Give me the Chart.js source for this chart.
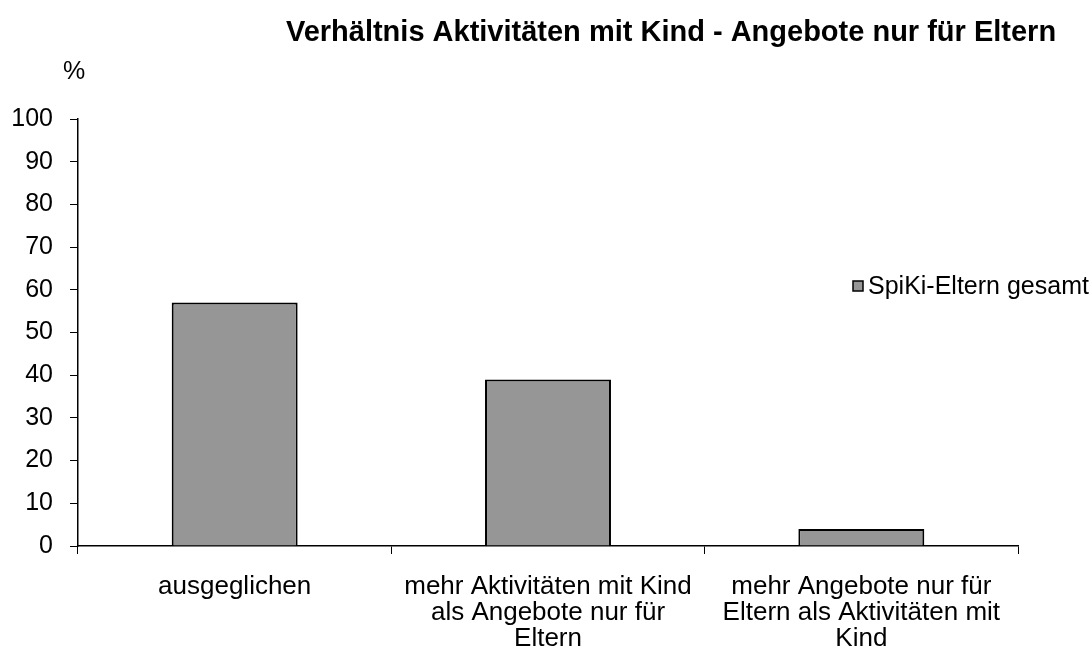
<!DOCTYPE html>
<html>
<head>
<meta charset="utf-8">
<script src="https://cdn.jsdelivr.net/npm/chart.js@4"></script>
<style>
	html, body { margin: 0; padding: 0; background: #ffffff; }
	#wrap { width: 1092px; height: 661px; }
</style>
</head>
<body>
<div id="wrap"><canvas id="chart" width="1092" height="661"></canvas></div>
<script>
// Verhältnis Aktivitäten mit Kind - Angebote nur für Eltern

const chartTitle  = 'Verhältnis Aktivitäten mit Kind - Angebote nur für Eltern'
const yAxisLabel  = '%'
const seriesName  = 'SpiKi-Eltern gesamt'
const categories  = [
	['ausgeglichen'],
	['mehr Aktivitäten mit Kind', 'als Angebote nur für', 'Eltern'],
	['mehr Angebote nur für', 'Eltern als Aktivitäten mit', 'Kind'],
]
const spikiValues = [57, 39, 4]
const yMin        = 0
const yMax        = 100
const yStep       = 10

const FONT     = '"Liberation Sans", Arial, sans-serif'
const BAR_FILL = '#969696'

const area = { left : 78, right : 1018, top : 119, bottom : 546 }

const extrasPlugin = {
	id : 'extras',
	afterDraw : (chart) => {
		const ctx = chart.ctx
		ctx.save()
		ctx.fillStyle    = '#000000'
		ctx.textBaseline = 'middle'

		// title
		ctx.font      = `bold 29px ${FONT}`
		ctx.textAlign = 'center'
		ctx.fillText(chartTitle, 671, 33)

		// unit above y axis
		ctx.font = `25px ${FONT}`
		ctx.fillText(yAxisLabel, 74, 72)

		// legend
		ctx.fillStyle   = BAR_FILL
		ctx.fillRect(853, 281, 10, 10)
		ctx.strokeStyle = '#000000'
		ctx.lineWidth   = 1.5
		ctx.strokeRect(853, 281, 10, 10)
		ctx.fillStyle = '#000000'
		ctx.textAlign = 'left'
		ctx.font      = `25px ${FONT}`
		ctx.fillText(seriesName, 868, 287)
		ctx.restore()
	},
}

new Chart(document.getElementById('chart'), {
	type : 'bar',
	data : {
		labels   : categories,
		datasets : [{
			label              : seriesName,
			data               : spikiValues,
			backgroundColor    : BAR_FILL,
			borderColor        : '#000000',
			borderWidth        : 2,
			barPercentage      : 0.402,
			categoryPercentage : 1,
		}],
	},
	options : {
		responsive          : false,
		animation           : false,
		devicePixelRatio    : 1,
		layout : {
			padding : { left : 0, right : 1092 - area.right, top : area.top, bottom : 0 },
		},
		plugins : {
			legend  : { display : false },
			title   : { display : false },
			tooltip : { enabled : false },
		},
		scales : {
			x : {
				offset : true,
				grid   : {
					offset          : true,
					drawOnChartArea : false,
					drawTicks       : true,
					tickLength      : 8,
					color           : '#000000',
				},
				border : { display : true, color : '#000000', width : 1.5 },
				ticks  : {
					color       : '#000000',
					font        : { family : FONT, size : 26, lineHeight : 1.0 },
					padding     : 20,
					maxRotation : 0,
					autoSkip    : false,
				},
				afterFit : (scale) => { scale.height = 661 - area.bottom },
			},
			y : {
				min    : yMin,
				max    : yMax,
				grid   : {
					drawOnChartArea : false,
					drawTicks       : true,
					tickLength      : 8,
					color           : '#000000',
				},
				border : { display : true, color : '#000000', width : 1.5 },
				ticks  : {
					stepSize : yStep,
					color    : '#000000',
					font     : { family : FONT, size : 25 },
					padding  : 17,
				},
				afterFit : (scale) => { scale.width = area.left },
			},
		},
	},
	plugins : [extrasPlugin],
})
</script>
</body>
</html>
